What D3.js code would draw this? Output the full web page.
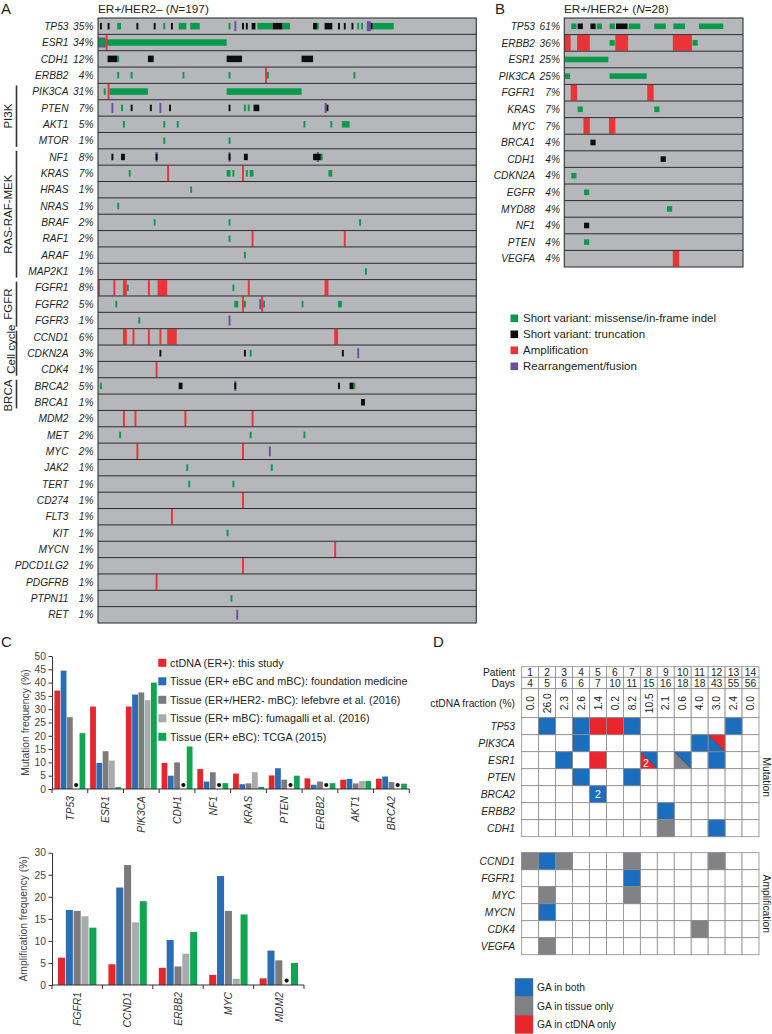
<!DOCTYPE html>
<html><head><meta charset="utf-8">
<script src="https://cdn.jsdelivr.net/npm/d3@7"></script>
<style>
body{margin:0;background:#fff}
svg{display:block;font-family:"Liberation Sans",Arial,Helvetica,sans-serif}
</style></head><body>
<svg id="fig" width="772" height="1034"></svg>
<script>
// ================= DATA =================
// Panel A
const aGenes = ["TP53","ESR1","CDH1","ERBB2","PIK3CA","PTEN","AKT1","MTOR","NF1","KRAS","HRAS","NRAS","BRAF","RAF1","ARAF","MAP2K1","FGFR1","FGFR2","FGFR3","CCND1","CDKN2A","CDK4","BRCA2","BRCA1","MDM2","MET","MYC","JAK2","TERT","CD274","FLT3","KIT","MYCN","PDCD1LG2","PDGFRB","PTPN11","RET"];
const aPct = [35,34,12,4,31,7,5,1,8,7,1,1,2,2,1,1,8,5,1,6,3,1,5,1,2,2,2,1,1,1,1,1,1,1,1,1,1];
const aN = 197;
// [gene, first patient index, number of patients, alteration type]
const aEvents = [
["TP53",1,1,"trunc"],["TP53",5,1,"trunc"],["TP53",10,2,"mis"],["TP53",20,1,"trunc"],["TP53",29,1,"trunc"],["TP53",34,1,"mis"],["TP53",38,1,"trunc"],["TP53",42,4,"mis"],["TP53",48,5,"mis"],["TP53",68,1,"mis"],["TP53",71,1,"rearr"],["TP53",75,1,"trunc"],["TP53",77,1,"trunc"],["TP53",80,2,"trunc"],["TP53",83,8,"mis"],["TP53",91,5,"trunc"],["TP53",96,4,"mis"],["TP53",112,2,"trunc"],["TP53",114,1,"mis"],["TP53",118,4,"trunc"],["TP53",125,1,"trunc"],["TP53",128,1,"trunc"],["TP53",132,1,"trunc"],["TP53",135,1,"mis"],["TP53",137,1,"mis"],["TP53",140,2,"rearr"],["TP53",142,1,"trunc"],["TP53",143,11,"mis"],
["ESR1",0,4,"rearr"],["ESR1",0,67,"mis"],["ESR1",4,1,"amp"],
["CDH1",5,5,"trunc"],["CDH1",10,1,"mis"],["CDH1",26,3,"trunc"],["CDH1",67,8,"trunc"],["CDH1",106,6,"trunc"],
["ERBB2",10,1,"mis"],["ERBB2",17,1,"mis"],["ERBB2",44,1,"mis"],["ERBB2",68,1,"mis"],["ERBB2",87,1,"amp"],["ERBB2",88,1,"mis"],["ERBB2",133,1,"mis"],
["PIK3CA",3,1,"mis"],["PIK3CA",6,20,"mis"],["PIK3CA",5,1,"amp"],["PIK3CA",67,39,"mis"],
["PTEN",7,1,"rearr"],["PTEN",12,1,"mis"],["PTEN",17,1,"trunc"],["PTEN",27,1,"trunc"],["PTEN",32,1,"rearr"],["PTEN",37,1,"trunc"],["PTEN",68,1,"trunc"],["PTEN",76,1,"mis"],["PTEN",78,1,"mis"],["PTEN",81,3,"trunc"],["PTEN",118,1,"rearr"],["PTEN",119,1,"trunc"],
["AKT1",13,1,"mis"],["AKT1",34,1,"mis"],["AKT1",41,1,"mis"],["AKT1",107,1,"mis"],["AKT1",121,1,"mis"],["AKT1",127,4,"mis"],
["MTOR",34,1,"mis"],["MTOR",68,1,"mis"],
["NF1",30,1,"rearr"],["NF1",68,1,"rearr"],["NF1",114,1,"rearr"],["NF1",7,1,"trunc"],["NF1",12,2,"trunc"],["NF1",30,1,"trunc"],["NF1",68,1,"trunc"],["NF1",76,2,"trunc"],["NF1",112,4,"trunc"],["NF1",116,1,"mis"],
["KRAS",16,1,"mis"],["KRAS",36,1,"amp"],["KRAS",67,2,"mis"],["KRAS",70,1,"mis"],["KRAS",75,1,"amp"],["KRAS",77,1,"mis"],["KRAS",79,2,"mis"],["KRAS",120,2,"mis"],
["HRAS",48,1,"mis"],["NRAS",10,1,"mis"],
["BRAF",29,1,"mis"],["BRAF",68,1,"mis"],["BRAF",136,1,"mis"],
["RAF1",68,1,"mis"],["RAF1",80,1,"amp"],["RAF1",128,1,"amp"],
["ARAF",76,1,"mis"],["MAP2K1",139,1,"mis"],
["FGFR1",0,1,"amp"],["FGFR1",8,1,"amp"],["FGFR1",13,2,"amp"],["FGFR1",15,1,"mis"],["FGFR1",26,1,"amp"],["FGFR1",31,5,"amp"],["FGFR1",70,1,"mis"],["FGFR1",78,1,"amp"],["FGFR1",118,2,"amp"],
["FGFR2",9,1,"mis"],["FGFR2",71,2,"mis"],["FGFR2",75,1,"amp"],["FGFR2",76,1,"mis"],["FGFR2",84,1,"rearr"],["FGFR2",85,1,"amp"],["FGFR2",86,1,"mis"],["FGFR2",106,1,"mis"],["FGFR2",125,2,"mis"],
["FGFR3",21,1,"mis"],["FGFR3",68,1,"rearr"],
["CCND1",13,2,"amp"],["CCND1",18,1,"amp"],["CCND1",26,1,"amp"],["CCND1",32,1,"amp"],["CCND1",36,2,"amp"],["CCND1",38,3,"amp"],["CCND1",123,2,"amp"],
["CDKN2A",32,1,"trunc"],["CDKN2A",76,1,"trunc"],["CDKN2A",79,1,"mis"],["CDKN2A",127,1,"trunc"],["CDKN2A",135,1,"rearr"],
["CDK4",30,1,"amp"],
["BRCA2",1,1,"mis"],["BRCA2",42,2,"trunc"],["BRCA2",71,1,"rearr"],["BRCA2",71,1,"trunc"],["BRCA2",125,1,"trunc"],["BRCA2",131,2,"trunc"],["BRCA2",133,1,"mis"],
["BRCA1",137,2,"trunc"],
["MDM2",13,1,"amp"],["MDM2",19,1,"amp"],["MDM2",45,1,"amp"],["MDM2",80,1,"amp"],
["MET",11,1,"mis"],["MET",79,1,"mis"],["MET",107,1,"mis"],
["MYC",20,1,"amp"],["MYC",75,1,"amp"],["MYC",89,1,"rearr"],
["JAK2",46,1,"mis"],["JAK2",90,1,"mis"],
["TERT",47,1,"mis"],["TERT",70,1,"mis"],
["CD274",75,1,"amp"],["FLT3",38,1,"amp"],["KIT",67,1,"mis"],["MYCN",123,1,"amp"],
["PDCD1LG2",75,1,"amp"],["PDGFRB",30,1,"amp"],["PTPN11",69,1,"mis"],["RET",72,1,"rearr"]
];
const aPathways = [["PI3K","PIK3CA","MTOR"],["RAS-RAF-MEK","NF1","MAP2K1"],["FGFR","FGFR1","FGFR3"],["Cell cycle","CCND1","CDK4"],["BRCA","BRCA2","BRCA1"]];

// Panel B
const bGenes = ["TP53","ERBB2","ESR1","PIK3CA","FGFR1","KRAS","MYC","BRCA1","CDH1","CDKN2A","EGFR","MYD88","NF1","PTEN","VEGFA"];
const bPct = [61,36,25,25,7,7,7,4,4,4,4,4,4,4,4];
const bN = 28;
const bEvents = [
["TP53",1,1,"mis"],["TP53",2,1,"trunc"],["TP53",4,1,"trunc"],["TP53",5,1,"mis"],["TP53",7,1,"mis"],["TP53",8,2,"trunc"],["TP53",10,2,"mis"],["TP53",14,2,"mis"],["TP53",17,2,"mis"],["TP53",21,4,"mis"],
["ERBB2",0,1,"amp"],["ERBB2",2,2,"amp"],["ERBB2",7,1,"mis"],["ERBB2",8,2,"amp"],["ERBB2",17,3,"amp"],["ERBB2",20,1,"mis"],
["ESR1",0,7,"mis"],
["PIK3CA",0,1,"mis"],["PIK3CA",7,6,"mis"],
["FGFR1",1,1,"amp"],["FGFR1",13,1,"amp"],
["KRAS",2,1,"mis"],["KRAS",14,1,"mis"],
["MYC",3,1,"amp"],["MYC",7,1,"amp"],
["BRCA1",4,1,"trunc"],["CDH1",15,1,"trunc"],["CDKN2A",1,1,"mis"],["EGFR",3,1,"mis"],
["MYD88",16,1,"mis"],["NF1",3,1,"trunc"],["PTEN",3,1,"mis"],["VEGFA",17,1,"amp"]
];
const altTypes = ["mis","trunc","amp","rearr"];
const altLabels = ["Short variant: missense/in-frame indel","Short variant: truncation","Amplification","Rearrangement/fusion"];

// Panel C
const cSeries = ["ctDNA (ER+): this study","Tissue (ER+ eBC and mBC): foundation medicine","Tissue (ER+/HER2- mBC): lefebvre et al. (2016)","Tissue (ER+ mBC): fumagalli et al. (2016)","Tissue (ER+ eBC): TCGA (2015)"];
const mutGenes = ["TP53","ESR1","PIK3CA","CDH1","NF1","KRAS","PTEN","ERBB2","AKT1","BRCA2"];
const mutCtDNA     = [37.0, 31.0, 31.0, 9.8, 7.5, 5.8, 5.1, 4.0, 3.5, 3.9];
const mutFM        = [44.5, 9.8, 35.5, 5.0, 2.8, 1.8, 7.8, 1.6, 3.8, 4.7];
const mutLefebvre  = [27.0, 14.2, 36.3, 10.0, 6.3, 2.1, 3.5, 2.8, 2.1, 2.6];
const mutFumagalli = [null, 10.7, 33.4, null, null, 6.3, null, null, 3.0, null];
const mutTCGA      = [21.0, 0.7, 40.0, 16.0, 2.2, 0.8, 5.0, 2.2, 3.0, 2.0];
const ampGenes = ["FGFR1","CCND1","ERBB2","MYC","MDM2"];
const ampCtDNA     = [6.2, 4.7, 3.9, 2.3, 1.5];
const ampFM        = [17.0, 22.1, 10.2, 24.7, 7.8];
const ampLefebvre  = [16.8, 27.2, 4.2, 16.8, 5.6];
const ampFumagalli = [15.6, 14.2, 7.1, 1.4, null];
const ampTCGA      = [13.0, 19.0, 12.0, 16.0, 5.0];
const mutTicks = [0,5,10,15,20,25,30,35,40,45,50];
const ampTicks = [0,5,10,15,20,25,30];
const missingMarkMut = 1.5, missingMarkAmp = 1.0;

// Panel D
const dPatients = [1,2,3,4,5,6,7,8,9,10,11,12,13,14];
const dDays = [4,5,6,6,7,10,11,15,16,18,18,43,55,56];
const dCtDNA = ["0.0","26.0","2.3","2.6","1.4","0.2","8.2","10.5","2.1","0.6","4.0","3.0","2.4","0.0"];
const dMutGenes = ["TP53","PIK3CA","ESR1","PTEN","BRCA2","ERBB2","CDH1"];
const dAmpGenes = ["CCND1","FGFR1","MYC","MYCN","CDK4","VEGFA"];
const dMutCells = [["TP53",2,"both"],["TP53",4,"both"],["TP53",5,"ctdna"],["TP53",6,"ctdna"],["TP53",7,"both"],["TP53",13,"both"],
 ["PIK3CA",4,"both"],["PIK3CA",11,"both"],["ESR1",3,"both"],["ESR1",5,"ctdna"],["ESR1",12,"both"],
 ["PTEN",4,"both"],["PTEN",7,"both"],["BRCA2",5,"both"],["ERBB2",9,"both"],["CDH1",9,"tissue"],["CDH1",12,"both"]];
// [gene, patient, lower-left status, upper-right status]
const dSplitCells = [["PIK3CA",12,"both","ctdna"],["ESR1",8,"ctdna","both"],["ESR1",10,"tissue","both"]];
const dCellLabels = [["ESR1",8,"2","split"],["BRCA2",5,"2","full"]];
const dAmpCells = [["CCND1",1,"tissue"],["CCND1",2,"both"],["CCND1",3,"tissue"],["CCND1",7,"tissue"],["CCND1",12,"tissue"],
 ["FGFR1",7,"both"],["MYC",2,"tissue"],["MYC",7,"tissue"],["MYCN",2,"both"],["CDK4",11,"tissue"],["VEGFA",2,"tissue"]];
const dStatus = ["both","tissue","ctdna"];
const dStatusLabels = ["GA in both","GA in tissue only","GA in ctDNA only"];

// ================= STYLE =================
const TXT = "#231f20";
const altColor = {mis:"#0a9a4c", trunc:"#0d0d0d", amp:"#ec3438", rearr:"#6e4f9f"};
const seriesColor = ["#e5262b","#2a6db7","#7b7b7d","#a9aaad","#10a651"];
const statusColor = {both:"#1b6ebd", tissue:"#818285", ctdna:"#e8262c"};
const svg = d3.select("#fig");

function panelLabel(t,x,y){ svg.append("text").text(t).attr("x",x).attr("y",y).attr("font-size",15).attr("fill",TXT); }
panelLabel("A",1,13.5); panelLabel("B",495,13.5); panelLabel("C",1,647); panelLabel("D",433,647);

function title(x,y,pre,num){
  const t = svg.append("text").attr("x",x).attr("y",y).attr("font-size",11.8).attr("fill",TXT);
  t.append("tspan").text(pre+" (");
  t.append("tspan").attr("font-style","italic").text("N");
  t.append("tspan").text("="+num+")");
}
title(98,13.4,"ER+/HER2\u2013",aN);
title(564,13.4,"ER+/HER2+",bN);

// ================= ONCOPRINT =================
function onco(cfg){
  const g = svg.append("g");
  const y = d3.scaleBand().domain(cfg.genes).range([cfg.y0,cfg.y1]);
  const x = d3.scaleLinear().domain([0,cfg.n]).range([cfg.x0,cfg.x1]);
  const bw = y.bandwidth();
  g.append("rect").attr("x",cfg.x0).attr("y",cfg.y0).attr("width",cfg.x1-cfg.x0).attr("height",cfg.y1-cfg.y0).attr("fill","#b5b7bb");
  const order = {rearr:0,mis:1,trunc:2,amp:3};
  const ev = cfg.events.slice().sort((a,b)=>order[a[3]]-order[b[3]]);
  const hg = t => t==="amp" ? bw-1 : (t==="rearr" ? cfg.hR : cfg.hS);
  const ins = t => (t==="mis"||t==="trunc") ? cfg.insS : 0;
  g.selectAll(null).data(ev).join("rect")
    .attr("x", d=>x(d[1])+ins(d[3]))
    .attr("y", d=>y(d[0])+(bw-hg(d[3]))/2)
    .attr("width", d=>Math.max(1.2, x(d[1]+d[2])-x(d[1])-2*ins(d[3])))
    .attr("height", d=>hg(d[3]))
    .attr("fill", d=>altColor[d[3]]);
  g.selectAll(null).data(cfg.genes.slice(1)).join("line")
    .attr("x1",cfg.x0).attr("x2",cfg.x1).attr("y1",d=>y(d)).attr("y2",d=>y(d))
    .attr("stroke","#2c2c2c").attr("stroke-width",1);
  g.append("rect").attr("x",cfg.x0).attr("y",cfg.y0).attr("width",cfg.x1-cfg.x0).attr("height",cfg.y1-cfg.y0)
    .attr("fill","none").attr("stroke","#333").attr("stroke-width",1.1);
  g.selectAll(null).data(cfg.genes).join("text")
    .attr("x",cfg.lx).attr("y",d=>y(d)+bw/2).attr("dy","0.36em").attr("text-anchor","end")
    .attr("font-size",10.2).attr("font-style","italic").attr("fill",TXT).text(d=>d);
  g.selectAll(null).data(cfg.pcts).join("text")
    .attr("x",cfg.px).attr("y",(d,i)=>y(cfg.genes[i])+bw/2).attr("dy","0.36em").attr("text-anchor","end")
    .attr("font-size",10.2).attr("font-style","italic").attr("fill",TXT).text(d=>d+"%");
  return y;
}
const yA = onco({genes:aGenes,pcts:aPct,events:aEvents,n:aN,x0:98,x1:476.3,y0:18,y1:623,hS:6.5,hR:10,insS:0,lx:68.5,px:93.5});
onco({genes:bGenes,pcts:bPct,events:bEvents,n:bN,x0:564.3,x1:743,y0:18,y1:267,hS:5.6,hR:10,insS:0.6,lx:535,px:560});

// pathway brackets
aPathways.forEach(p=>{
  const yt = yA(p[1])+2, yb = yA(p[2])+yA.bandwidth()-2;
  svg.append("line").attr("x1",16.5).attr("x2",16.5).attr("y1",yt).attr("y2",yb).attr("stroke","#333").attr("stroke-width",1.6);
  const isCC = p[0]==="Cell cycle";
  const cx = isCC ? 10.5 : 7.5, cy = isCC ? (yt+yb)/2 - 4 : (yt+yb)/2 + (p[0]==="BRCA" ? 1.5 : 0);
  svg.append("text").attr("transform",`translate(${cx},${cy}) rotate(-90)`).attr("text-anchor","middle").attr("dy","0.36em")
    .attr("font-size",11.5).attr("fill",TXT).text(p[0]);
});

// legend for A/B
const legA = svg.append("g");
altTypes.forEach((t,i)=>{
  const cy = 318.3 + i*16;
  legA.append("rect").attr("x",510.5).attr("y",cy-3.8).attr("width",7.6).attr("height",7.6).attr("fill",altColor[t]);
  legA.append("text").attr("x",523).attr("y",cy).attr("dy","0.36em").attr("font-size",11.5).attr("fill",TXT).text(altLabels[i]);
});

// ================= PANEL C =================
function bars(cfg){
  const g = svg.append("g");
  const x = d3.scaleBand().domain(cfg.genes).range([cfg.x0,cfg.x1]);
  const xi = d3.scaleBand().domain(d3.range(cfg.series.length)).range([cfg.pad, x.bandwidth()-cfg.pad]).paddingInner(cfg.pin);
  const y = d3.scaleLinear().domain([0,cfg.max]).range([cfg.yb,cfg.yt]);
  const data = [];
  cfg.series.forEach((s,si)=>s.forEach((v,gi)=>data.push({g:cfg.genes[gi],si,v})));
  g.selectAll(null).data(data.filter(d=>d.v!==null)).join("rect")
    .attr("x",d=>x(d.g)+xi(d.si)).attr("width",xi.bandwidth())
    .attr("y",d=>y(d.v)).attr("height",d=>y(0)-y(d.v)).attr("fill",d=>seriesColor[d.si]);
  g.selectAll(null).data(data.filter(d=>d.v===null)).join("circle")
    .attr("cx",d=>x(d.g)+xi(d.si)+xi.bandwidth()/2).attr("cy",y(cfg.missing)).attr("r",2.1).attr("fill","#111");
  const ax = g.append("g").attr("transform",`translate(${cfg.x0},0)`)
    .call(d3.axisLeft(y).tickValues(cfg.ticks).tickSize(3.5).tickSizeOuter(0).tickPadding(2.5));
  ax.select(".domain").attr("stroke","#333");
  ax.selectAll(".tick line").attr("stroke","#333");
  ax.selectAll(".tick text").attr("font-size",10.3).attr("fill","#444").attr("font-family",null);
  g.append("line").attr("x1",cfg.x0).attr("x2",cfg.x1).attr("y1",y(0)).attr("y2",y(0)).attr("stroke","#333").attr("stroke-width",1.1);
  const bounds = cfg.genes.map(d=>x(d)).concat([cfg.x1]);
  g.selectAll(null).data(bounds).join("line").attr("x1",d=>d).attr("x2",d=>d).attr("y1",y(0)).attr("y2",y(0)+4).attr("stroke","#333");
  g.selectAll(null).data(cfg.genes).join("text")
    .attr("transform",d=>`translate(${x(d)+x.bandwidth()/2},${cfg.ly}) rotate(-90)`)
    .attr("text-anchor","end").attr("dy","0.36em").attr("font-size",10.3).attr("font-style","italic").attr("fill","#333").text(d=>d);
  g.append("text").attr("transform",`translate(${cfg.tx},${(cfg.yb+cfg.yt)/2}) rotate(-90)`)
    .attr("text-anchor","middle").attr("dy","0.36em").attr("font-size",10.3).attr("fill","#444").text(cfg.title);
}
bars({genes:mutGenes,series:[mutCtDNA,mutFM,mutLefebvre,mutFumagalli,mutTCGA],x0:52,x1:409.3,yb:789,yt:656,max:50,ticks:mutTicks,
  pad:2.4,pin:0.08,missing:missingMarkMut,ly:796,tx:25,title:"Mutation frequency (%)"});
bars({genes:ampGenes,series:[ampCtDNA,ampFM,ampLefebvre,ampFumagalli,ampTCGA],x0:52,x1:304,yb:985,yt:852.7,max:30,ticks:ampTicks,
  pad:6,pin:0.1,missing:missingMarkAmp,ly:992,tx:23.5,title:"Amplification frequency (%)"});
// legend C
cSeries.forEach((s,i)=>{
  const cy = 662.8 + i*18.5;
  svg.append("rect").attr("x",158.3).attr("y",cy-4).attr("width",8).attr("height",8).attr("fill",seriesColor[i]);
  svg.append("text").attr("x",170).attr("y",cy).attr("dy","0.36em").attr("font-size",10.8).attr("fill",TXT).text(s);
});

// ================= PANEL D =================
const dG = svg.append("g");
const dX = d3.scaleBand().domain(dPatients).range([521.7,759]);
const cw = dX.bandwidth();
const hdrTop = 666.7, hdrRowH = [10.6,11.4,29];
const hdrY = [hdrTop, hdrTop+hdrRowH[0], hdrTop+hdrRowH[0]+hdrRowH[1]];
const hdrNames = ["Patient","Days","ctDNA fraction (%)"];
const hdrVals = [dPatients.map(String), dDays.map(String), dCtDNA];
const yM = d3.scaleBand().domain(dMutGenes).range([717.7,836.7]);
const yAm = d3.scaleBand().domain(dAmpGenes).range([852.7,954.7]);
const GRID = "#8d8d8d";
function cellRect(x,y,w,h,fill){ dG.append("rect").attr("x",x).attr("y",y).attr("width",w).attr("height",h).attr("fill",fill).attr("stroke",GRID).attr("stroke-width",0.8); }
hdrNames.forEach((nm,r)=>{
  dPatients.forEach((p,c)=>{
    cellRect(dX(p),hdrY[r],cw,hdrRowH[r],"#fff");
    const cx = dX(p)+cw/2, cy = hdrY[r]+hdrRowH[r]/2;
    const t = dG.append("text").attr("font-size",10.3).attr("fill",TXT).attr("text-anchor","middle").attr("dy","0.36em").text(hdrVals[r][c]);
    if(r===2) t.attr("transform",`translate(${cx},${cy}) rotate(-90)`); else t.attr("x",cx).attr("y",cy);
  });
  dG.append("text").attr("x",515).attr("y",hdrY[r]+hdrRowH[r]/2).attr("dy","0.36em").attr("text-anchor","end")
    .attr("font-size",10.3).attr("fill",TXT).text(nm);
});
function grid(genes,yS,cells){
  genes.forEach(gn=>{
    dPatients.forEach(p=>cellRect(dX(p),yS(gn),cw,yS.bandwidth(),"#fff"));
    dG.append("text").attr("x",515).attr("y",yS(gn)+yS.bandwidth()/2).attr("dy","0.36em").attr("text-anchor","end")
      .attr("font-size",10.3).attr("font-style","italic").attr("fill",TXT).text(gn);
  });
  cells.forEach(c=>cellRect(dX(c[1]),yS(c[0]),cw,yS.bandwidth(),statusColor[c[2]]));
}
grid(dMutGenes,yM,dMutCells);
grid(dAmpGenes,yAm,dAmpCells);
dSplitCells.forEach(c=>{
  const x=dX(c[1]), y=yM(c[0]), w=cw, h=yM.bandwidth();
  dG.append("path").attr("d",`M${x},${y}L${x},${y+h}L${x+w},${y+h}Z`).attr("fill",statusColor[c[2]]);
  dG.append("path").attr("d",`M${x},${y}L${x+w},${y}L${x+w},${y+h}Z`).attr("fill",statusColor[c[3]]);
  dG.append("line").attr("x1",x).attr("y1",y).attr("x2",x+w).attr("y2",y+h).attr("stroke","#333").attr("stroke-width",0.8);
  dG.append("rect").attr("x",x).attr("y",y).attr("width",w).attr("height",h).attr("fill","none").attr("stroke",GRID).attr("stroke-width",0.8);
});
dCellLabels.forEach(c=>{
  const x=dX(c[1]), y=yM(c[0]), w=cw, h=yM.bandwidth();
  const cx = c[3]==="split" ? x+w*0.33 : x+w/2, cy = c[3]==="split" ? y+h*0.68 : y+h/2;
  dG.append("text").attr("x",cx).attr("y",cy).attr("dy","0.36em").attr("text-anchor","middle").attr("font-size",10.5).attr("fill","#fff").text(c[2]);
});
[["Mutation",yM],["Amplification",yAm]].forEach(([t,s])=>{
  const r = s.range();
  dG.append("text").attr("transform",`translate(762.5,${(r[0]+r[1])/2}) rotate(90)`).attr("text-anchor","middle")
    .attr("font-size",10.3).attr("fill",TXT).text(t);
});
dStatus.forEach((s,i)=>{
  const y0 = 978.3 + i*18.4;
  dG.append("rect").attr("x",515).attr("y",y0).attr("width",18).attr("height",18.4).attr("fill",statusColor[s]).attr("stroke","#777").attr("stroke-width",0.5);
  dG.append("text").attr("x",537).attr("y",y0+9.2).attr("dy","0.36em").attr("font-size",10.3).attr("fill",TXT).text(dStatusLabels[i]);
});
</script></body></html>
